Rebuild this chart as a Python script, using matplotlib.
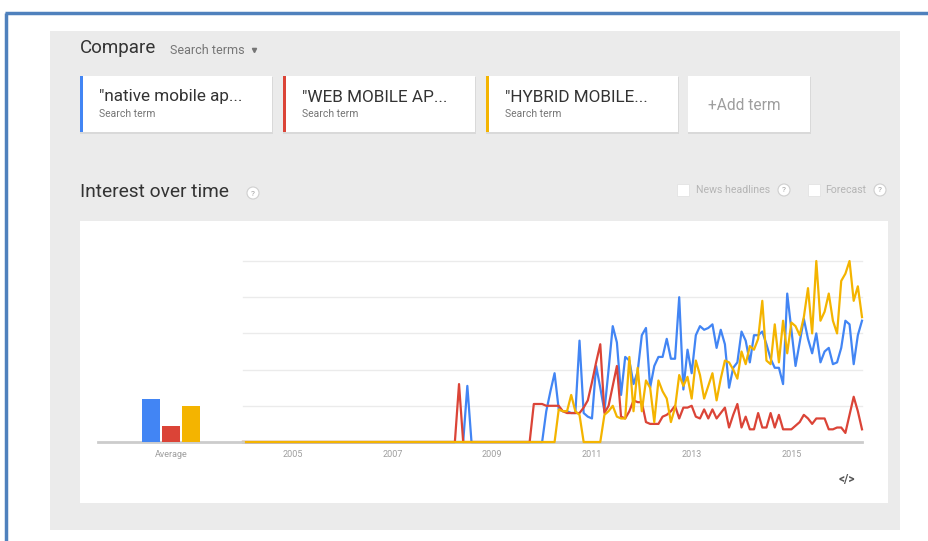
import matplotlib.pyplot as plt
import matplotlib.patches as mpatches
import numpy as np

plt.rcParams['font.family'] = ['Roboto', 'DejaVu Sans']

# search terms, colours and the "Average" bars
terms = ['"native mobile ap...', '"WEB MOBILE AP...', '"HYBRID MOBILE...']
colors = ['#4285f4', '#db4437', '#f4b400']
averages = [24, 9, 20]
year_ticks = [2005, 2007, 2009, 2011, 2013, 2015]

# monthly interest, Jan 2004 .. Jun 2016
native = [0] * 54 + [31] + [0] * 18 + [
    17, 28, 38, 18, 17, 17, 16, 16, 56, 16, 14, 13, 42, 30, 17, 40, 64, 55, 26, 47,
    45, 32, 39, 59, 63, 30, 42, 47, 47, 57, 46, 46, 80, 29, 51, 38, 59, 64, 62, 63,
    65, 52, 62, 54, 30, 41, 44, 61, 56, 44, 59, 59, 61, 54, 46, 41, 41, 32, 82, 62,
    42, 55, 68, 57, 49, 60, 44, 50, 52, 43, 44, 52, 67, 65, 43, 59, 67]
web = [0] * 52 + [32] + [0] * 17 + [
    21, 21, 21, 20, 20, 20, 20, 17, 16, 16, 16, 16, 19, 23, 33, 44, 54, 16, 20, 31,
    42, 14, 13, 17, 23, 22, 22, 11, 10, 10, 10, 14, 15, 17, 20, 13, 19, 19, 20, 14,
    13, 18, 13, 18, 13, 16, 19, 8, 15, 21, 8, 14, 7, 7, 16, 8, 8, 16, 8, 15,
    7, 7, 7, 9, 11, 15, 13, 10, 13, 13, 13, 7, 7, 8, 8, 5, 15, 25, 17, 7]
hybrid = [0] * 76 + [18, 17, 17, 26, 17, 15] + [0] * 5 + [
    15, 17, 20, 14, 13, 13, 47, 17, 41, 17, 34, 30, 11, 34, 28, 24, 11, 19, 37, 31,
    36, 24, 45, 37, 24, 31, 38, 23, 35, 45, 44, 40, 35, 50, 43, 53, 51, 57, 78, 45,
    43, 65, 44, 67, 49, 66, 64, 59, 69, 85, 60, 100, 67, 72, 82, 67, 60, 89, 93, 100,
    78, 86, 69]

months = 2004 + np.arange(len(native)) / 12

W, H = 929, 541
fig = plt.figure(figsize=(W / 100, H / 100), dpi=100)

# page drawn in pixel coordinates
bg = fig.add_axes([0, 0, 1, 1])
bg.set_xlim(0, W)
bg.set_ylim(H, 0)
bg.axis('off')

bg.plot([6, 6], [13, H], color='#4f81bd', lw=2.5, solid_capstyle='butt')
bg.plot([5, W], [13, 13], color='#4f81bd', lw=2.5, solid_capstyle='butt')
bg.add_patch(mpatches.Rectangle((50, 31), 850, 499, color='#ebebeb', lw=0))

bg.text(80, 48, 'Compare', fontsize=13.5, color='#333333', va='center')
bg.text(170, 50, 'Search terms', fontsize=9, color='#757575', va='center')
bg.plot(254, 50, marker='v', ms=3, color='#757575')

for k, x0 in enumerate([80, 283, 486]):
    bg.add_patch(mpatches.Rectangle((x0, 77), 193, 57, color='#d9d9d9', lw=0))
    bg.add_patch(mpatches.Rectangle((x0, 76), 192, 56, color='white', lw=0))
    bg.add_patch(mpatches.Rectangle((x0, 76), 3, 56, color=colors[k], lw=0))
    bg.text(x0 + 19, 97, terms[k], fontsize=12.3, color='#333333', va='center')
    bg.text(x0 + 19, 114, 'Search term', fontsize=7.5, color='#757575', va='center')
bg.add_patch(mpatches.Rectangle((688, 77), 123, 57, color='#d9d9d9', lw=0))
bg.add_patch(mpatches.Rectangle((688, 76), 122, 56, color='white', lw=0))
bg.text(708, 105, '+Add term', fontsize=11.2, color='#9e9e9e', va='center')

bg.text(80, 192, 'Interest over time', fontsize=13.8, color='#333333', va='center')


def help_icon(x, y):
    bg.add_patch(mpatches.Circle((x, y), 6, fc='white', ec='#cfcfcf', lw=0.8))
    bg.text(x, y + 0.5, '?', fontsize=6, color='#9e9e9e', ha='center', va='center')


help_icon(253, 193)
bg.add_patch(mpatches.Rectangle((677, 184), 12, 12, fc='white', ec='#e3e3e3', lw=0.6))
bg.text(696, 190, 'News headlines', fontsize=7.6, color='#b5b5b5', va='center')
help_icon(784, 190)
bg.add_patch(mpatches.Rectangle((808, 184), 12, 12, fc='white', ec='#e3e3e3', lw=0.6))
bg.text(825, 190, 'Forecast', fontsize=7.6, color='#b5b5b5', va='center')
help_icon(880, 190)

bg.add_patch(mpatches.Rectangle((80, 221), 808, 282, color='white', lw=0))
bg.text(847, 480, '</>', fontsize=8.5, color='#555555', ha='center', va='center',
        fontweight='bold')

# main time series
ax = fig.add_axes([243 / W, 1 - 442 / H, 619 / W, 181 / H])
ax.set_facecolor('none')
ax.set_xlim(months[0], months[-1])
ax.set_ylim(0, 100)
for v in [20, 40, 60, 80, 100]:
    ax.axhline(v, color='#ebebeb', lw=1, zorder=0, clip_on=False)
ax.axhline(0, color='#cccccc', lw=2, zorder=1, clip_on=False)
for series, c in zip([native, web, hybrid], colors):
    ax.plot(months, series, color=c, lw=1.6, clip_on=False, zorder=2)
ax.set_xticks(year_ticks)
ax.set_xticklabels([str(y) for y in year_ticks])
ax.set_yticks([])
ax.tick_params(axis='x', length=0, labelsize=6.5, colors='#9e9e9e', pad=6)
for s in ax.spines.values():
    s.set_visible(False)

# average bars
ax2 = fig.add_axes([98 / W, 1 - 442 / H, 145 / W, 181 / H])
ax2.set_facecolor('none')
ax2.bar(np.arange(3), averages, width=0.9, color=colors, zorder=2)
ax2.set_xlim(-2.65, 4.6)
ax2.set_ylim(0, 100)
ax2.axhline(0, color='#cccccc', lw=2, zorder=1, clip_on=False)
ax2.set_xticks([1])
ax2.set_xticklabels(['Average'])
ax2.set_yticks([])
ax2.tick_params(axis='x', length=0, labelsize=6.5, colors='#9e9e9e', pad=6)
for s in ax2.spines.values():
    s.set_visible(False)

fig.savefig('out.png', dpi=100)
